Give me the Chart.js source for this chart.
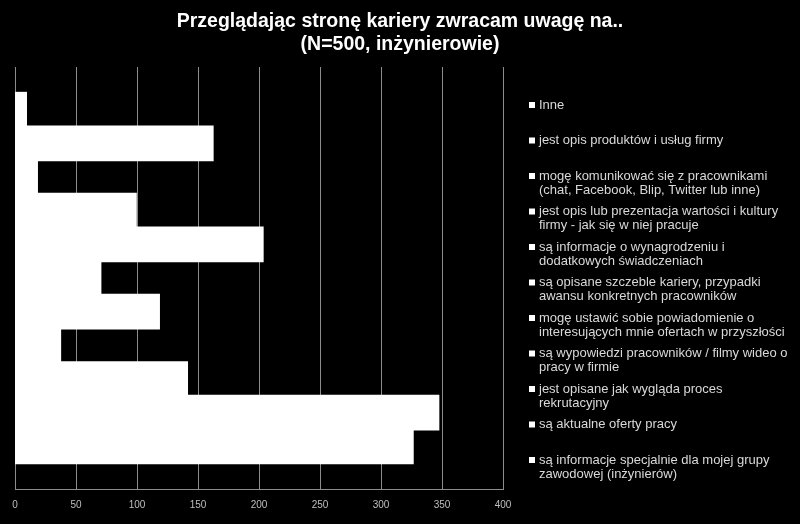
<!DOCTYPE html>
<html><head><meta charset="utf-8">
<script src="https://cdn.jsdelivr.net/npm/chart.js@4/dist/chart.umd.min.js"></script>
<style>html,body{margin:0;padding:0;background:#000;}#wrap{width:800px;height:524px;}</style>
</head><body><div id="wrap"><canvas id="c" width="800" height="524"></canvas></div>
<script>
const TITLE_LINES = ["Przeglądając stronę kariery zwracam uwagę na..", "(N=500, inżynierowie)"];
const CATEGORIES = [""];
const SERIES_LABELS = [
  ["Inne"],
  ["jest opis produktów i usług firmy"],
  ["mogę komunikować się z pracownikami", "(chat, Facebook, Blip, Twitter lub inne)"],
  ["jest opis lub prezentacja wartości i kultury", "firmy - jak się w niej pracuje"],
  ["są informacje o wynagrodzeniu i", "dodatkowych świadczeniach"],
  ["są opisane szczeble kariery, przypadki", "awansu konkretnych pracowników"],
  ["mogę ustawić sobie powiadomienie o", "interesujących mnie ofertach w przyszłości"],
  ["są wypowiedzi pracowników / filmy wideo o", "pracy w firmie"],
  ["jest opisane jak wygląda proces", "rekrutacyjny"],
  ["są aktualne oferty pracy"],
  ["są informacje specjalnie dla mojej grupy", "zawodowej (inżynierów)"]
];
const SERIES_VALUES = [9, 162, 18, 99, 203, 70, 118, 37, 141, 347, 326];
const X_MIN = 0, X_MAX = 400, X_STEP = 50;

const datasets = SERIES_VALUES.map((v, i) => ({
  label: SERIES_LABELS[i].join(' '),
  data: [v],
  backgroundColor: '#ffffff',
  borderWidth: 0,
  inflateAmount: 1,
  barPercentage: 1.0,
  categoryPercentage: 0.8776
}));

const overlay = {
  id: 'overlay',
  beforeDraw(chart) {
    const ctx = chart.ctx;
    ctx.save();
    ctx.fillStyle = '#000';
    ctx.fillRect(0, 0, chart.width, chart.height);
    ctx.restore();
  },
  afterDraw(chart) {
    const ctx = chart.ctx;
    ctx.save();
    ctx.fillStyle = '#ffffff';
    ctx.font = 'bold 19.5px "Liberation Sans", Arial, sans-serif';
    ctx.textAlign = 'center';
    ctx.textBaseline = 'alphabetic';
    ctx.fillText(TITLE_LINES[0], 400, 27);
    ctx.fillText(TITLE_LINES[1], 400, 49.5);
    ctx.font = '13px "Liberation Sans", Arial, sans-serif';
    ctx.textAlign = 'left';
    ctx.textBaseline = 'middle';
    SERIES_LABELS.forEach((lines, i) => {
      const cy = 105 + i * 35.5;
      ctx.fillStyle = '#ffffff';
      ctx.fillRect(529, cy - 3, 6, 6);
      ctx.fillStyle = '#d9d9d9';
      lines.forEach((t, j) => ctx.fillText(t, 539, cy + j * 14));
    });
    ctx.restore();
  }
};

new Chart(document.getElementById('c'), {
  type: 'bar',
  data: { labels: CATEGORIES, datasets },
  plugins: [overlay],
  options: {
    indexAxis: 'y',
    responsive: false,
    animation: false,
    devicePixelRatio: 1,
    layout: { padding: { left: 15, right: 297, top: 67, bottom: 3 } },
    plugins: { legend: { display: false }, title: { display: false }, tooltip: { enabled: false } },
    scales: {
      x: {
        min: X_MIN, max: X_MAX,
        ticks: { stepSize: X_STEP, color: '#bfbfbf', font: { family: '"Liberation Sans", Arial, sans-serif', size: 10 }, padding: 10 },
        grid: { color: '#8c8c8c', lineWidth: 1, drawTicks: false },
        border: { display: true, color: '#8c8c8c' }
      },
      y: {
        display: false,
        grid: { display: false }
      }
    }
  }
});
</script>
</body></html>
